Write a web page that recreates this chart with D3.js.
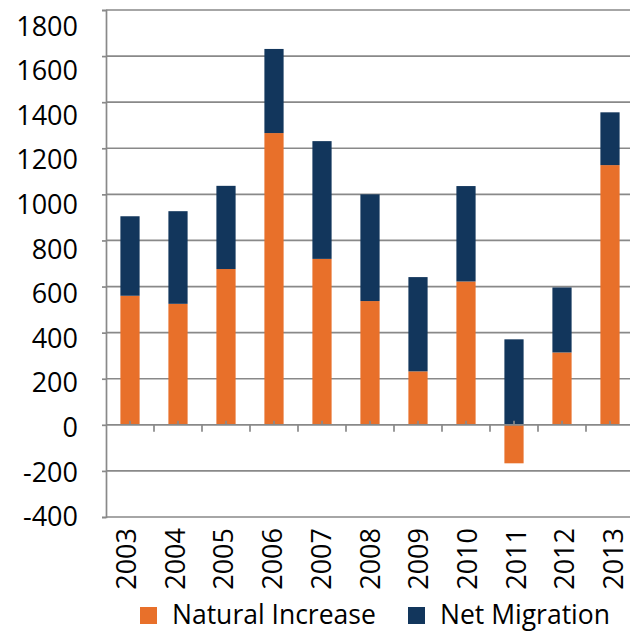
<!DOCTYPE html>
<html><head><meta charset="utf-8">
<script src="https://cdn.jsdelivr.net/npm/d3@7"></script>
<style>body{margin:0;background:#fff}svg{display:block}</style>
</head><body>
<svg id="c" width="630" height="631"></svg>
<script>
const years = ["2003","2004","2005","2006","2007","2008","2009","2010","2011","2012","2013"];
const naturalIncrease = [560, 525, 676, 1266, 720, 537, 232, 622, -167, 314, 1127];
const netMigration = [345, 402, 361, 365, 511, 463, 409, 414, 371, 282, 229];
const seriesNames = ["Natural Increase", "Net Migration"];
const colors = ["#E8702A", "#12365C"];
const yTicks = [-400,-200,0,200,400,600,800,1000,1200,1400,1600,1800];

(function(){
const svg = d3.select("#c");
const font = "'Open Sans', sans-serif";
const mLeft = 106, mRight = 634, mTop = 10, mBottom = 517;
const grey = "#898989";

const x = d3.scaleBand().domain(years).range([mLeft, mRight]).paddingInner(0.6).paddingOuter(0.3);
const xb = d3.scaleBand().domain(years).range([mLeft, mRight]);
const y = d3.scaleLinear().domain([-400, 1800]).range([mBottom, mTop]);
const yLab = d3.scaleLinear().domain([-400, 1800]).range([517, 26.5]);
const xLab = d3.scalePoint().domain(years).range([126, 613]);

const rows = years.map((yr, i) => ({year: yr, "Natural Increase": naturalIncrease[i], "Net Migration": netMigration[i]}));
const stack = d3.stack().keys(seriesNames).offset(d3.stackOffsetDiverging)(rows);

svg.append("g").selectAll("line").data(yTicks.filter(v => v !== 0)).join("line")
  .attr("x1", mLeft).attr("x2", mRight).attr("y1", d => y(d)).attr("y2", d => y(d))
  .attr("stroke", grey).attr("stroke-width", 1.7);

svg.append("g").selectAll("g").data(stack).join("g")
  .attr("fill", (d, i) => colors[i])
  .selectAll("rect").data(d => d).join("rect")
  .attr("x", d => x(d.data.year))
  .attr("width", x.bandwidth())
  .attr("y", d => y(Math.max(d[0], d[1])))
  .attr("height", d => Math.abs(y(d[0]) - y(d[1])));

const gy = svg.append("g").attr("transform", `translate(${mLeft},0)`)
  .call(d3.axisLeft(y).tickValues(yTicks).tickSize(4).tickFormat(""));
gy.select(".domain").attr("stroke", grey).attr("stroke-width", 1.7);
gy.selectAll(".tick line").attr("stroke", grey).attr("stroke-width", 1.7);

const gl = svg.append("g").attr("transform", `translate(${mLeft},0)`)
  .call(d3.axisLeft(yLab).tickValues(yTicks).tickSize(0).tickPadding(28).tickFormat(d => String(d)));
gl.select(".domain").remove();
gl.selectAll("text").attr("font-family", font).attr("font-size", 27).attr("fill", "#000");

svg.append("line").attr("x1", mLeft).attr("x2", mRight).attr("y1", y(0)).attr("y2", y(0))
  .attr("stroke", grey).attr("stroke-width", 1.7);
svg.append("g").selectAll("line").data(years.slice(1)).join("line")
  .attr("x1", d => xb(d)).attr("x2", d => xb(d)).attr("y1", y(0)).attr("y2", y(0) + 7)
  .attr("stroke", grey).attr("stroke-width", 1.7);
svg.append("g").selectAll("line").data(years).join("line")
  .attr("x1", d => xb(d) + xb.bandwidth()/2).attr("x2", d => xb(d) + xb.bandwidth()/2)
  .attr("y1", y(0)).attr("y2", y(0) - 4)
  .attr("stroke", grey).attr("stroke-width", 1.7);

svg.append("g").selectAll("text").data(years).join("text")
  .attr("transform", d => `translate(${xLab(d) + 10},528) rotate(-90)`)
  .attr("text-anchor", "end")
  .attr("font-family", font).attr("font-size", 27).attr("fill", "#000")
  .text(d => d);

const legendX = [140, 408];
const lg = svg.append("g").selectAll("g").data(seriesNames).join("g")
  .attr("transform", (d, i) => `translate(${legendX[i]},607)`);
lg.append("rect").attr("width", 17).attr("height", 17).attr("fill", (d, i) => colors[i]);
lg.append("text").attr("x", 32).attr("y", 17).attr("font-family", font).attr("font-size", 26.5)
  .attr("fill", "#000").text(d => d);
})();
</script>
</body></html>
